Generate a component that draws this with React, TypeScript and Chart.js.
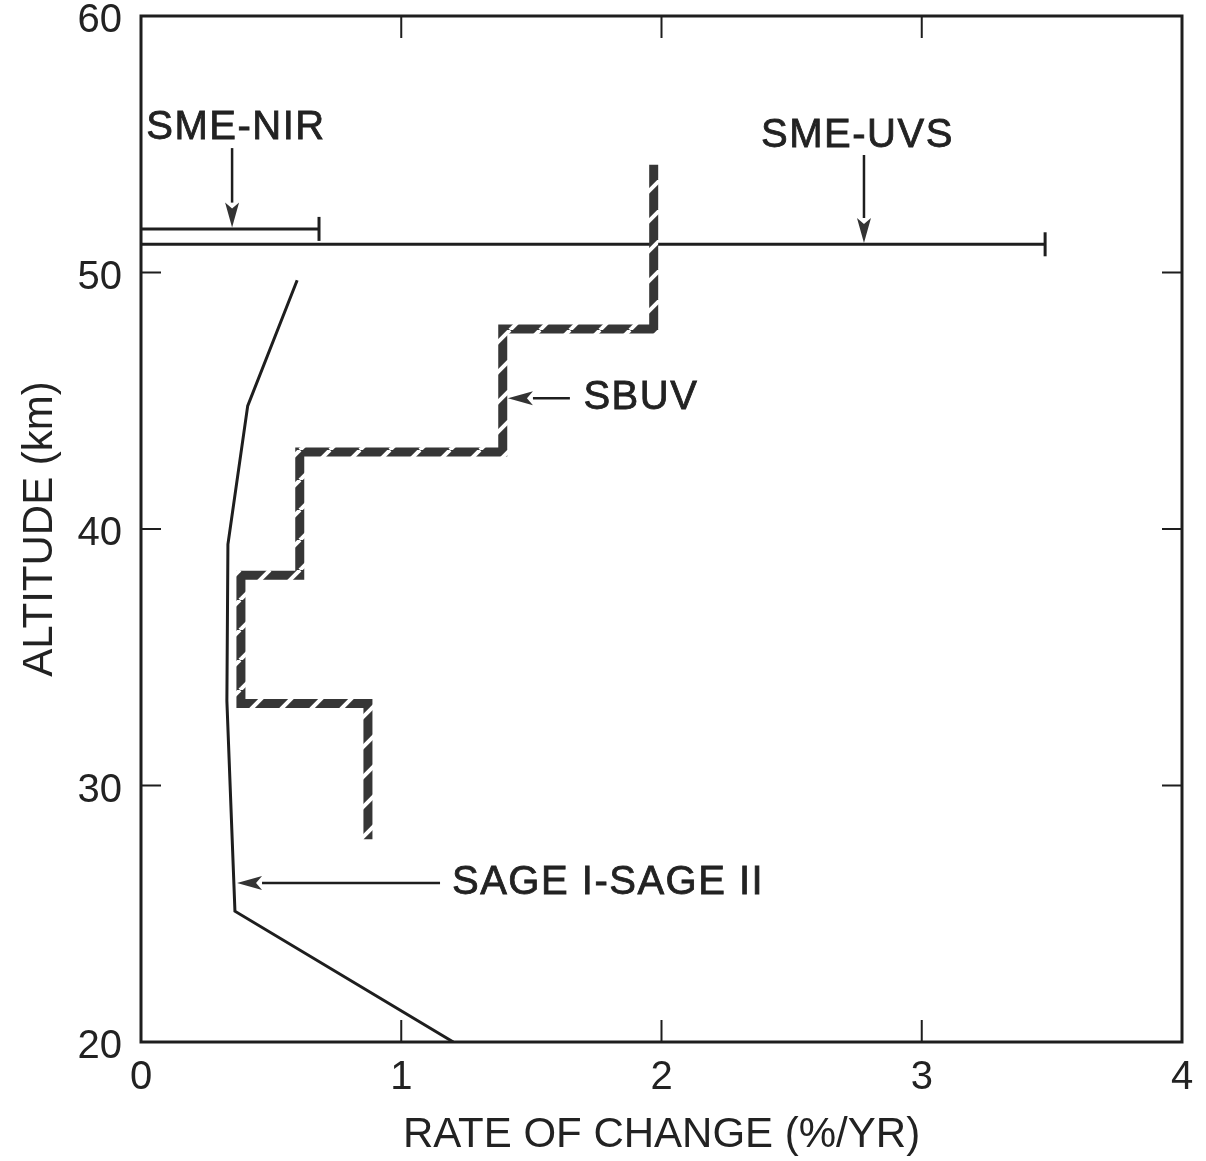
import React, { useEffect, useRef } from 'react';
import { Chart, registerables } from 'chart.js';

Chart.register(...registerables);

// ---- data ----
const xTickValues = [0, 1, 2, 3, 4];
const yTickValues = [20, 30, 40, 50, 60];
const innerTickX = [1, 2, 3];
const innerTickY = [30, 40, 50];

const sageRate = [0.6, 0.41, 0.334, 0.33, 0.361, 1.2];
const sageAlt = [49.7, 44.8, 39.4, 33.3, 25.1, 20.0];

const sbuvRate = [1.97, 1.97, 1.39, 1.39, 0.61, 0.61, 0.384, 0.384, 0.872, 0.872];
const sbuvAlt = [54.2, 47.8, 47.8, 43.0, 43.0, 38.2, 38.2, 33.2, 33.2, 27.9];

const nirRate = [0, 0.684];
const nirAlt = [51.7, 51.7];

const uvsRate = [0, 3.474];
const uvsAlt = [51.1, 51.1];

const labelTexts = ['SME-NIR', 'SME-UVS', 'SBUV', 'SAGE I-SAGE II'];
const labelX = [0.365, 2.753, 1.70, 1.195];
const labelY = [55.65, 55.32, 45.1, 26.2];
const labelAlign = ['center', 'center', 'left', 'left'];

// arrows: tail (x,y) -> tip (x,y)
const arrowTailX = [0.35, 2.778, 1.648, 1.149];
const arrowTailY = [54.85, 54.58, 45.1, 26.2];
const arrowTipX = [0.35, 2.778, 1.41, 0.369];
const arrowTipY = [51.75, 51.15, 45.1, 26.2];

const FONT = "'Liberation Sans', Arial, Helvetica, sans-serif";
const INK = '#1e1e1e';

function toPts(xs: number[], ys: number[]) {
  return xs.map((v, i) => ({ x: v, y: ys[i] }));
}

function makeHatch(): CanvasPattern | string {
  const P = 30;
  const c = document.createElement('canvas');
  c.width = P;
  c.height = P;
  const g = c.getContext('2d');
  if (!g) return '#383838';
  g.fillStyle = '#363636';
  g.fillRect(0, 0, P, P);
  g.strokeStyle = '#ffffff';
  g.lineWidth = 4;
  for (const k of [-1, 0, 1]) {
    g.beginPath();
    g.moveTo(k * P, P);
    g.lineTo(k * P + P, 0);
    g.stroke();
  }
  const pat = g.createPattern(c, 'repeat');
  return pat || '#383838';
}

function drawArrow(ctx: CanvasRenderingContext2D, x1: number, y1: number, x2: number, y2: number) {
  const ang = Math.atan2(y2 - y1, x2 - x1);
  const headLen = 25;
  const headW = 7;
  const bx = x2 - headLen * Math.cos(ang);
  const by = y2 - headLen * Math.sin(ang);
  ctx.beginPath();
  ctx.moveTo(x1, y1);
  ctx.lineTo(bx, by);
  ctx.lineWidth = 2.5;
  ctx.strokeStyle = INK;
  ctx.stroke();
  ctx.beginPath();
  ctx.moveTo(x2, y2);
  ctx.lineTo(bx + headW * Math.sin(ang), by - headW * Math.cos(ang));
  ctx.lineTo(x2 - (headLen - 6) * Math.cos(ang), y2 - (headLen - 6) * Math.sin(ang));
  ctx.lineTo(bx - headW * Math.sin(ang), by + headW * Math.cos(ang));
  ctx.closePath();
  ctx.fillStyle = '#333';
  ctx.fill();
}

const framePlugin = {
  id: 'frame',
  beforeDatasetsDraw(chart: any) {
    const { ctx, chartArea, scales } = chart;
    const { left, right, top, bottom } = chartArea;
    ctx.save();
    ctx.strokeStyle = INK;
    ctx.lineWidth = 3;
    ctx.strokeRect(left, top, right - left, bottom - top);
    ctx.lineWidth = 2;
    const tl = 22;
    for (const v of innerTickX) {
      const px = scales.x.getPixelForValue(v);
      ctx.beginPath();
      ctx.moveTo(px, bottom);
      ctx.lineTo(px, bottom - tl);
      ctx.moveTo(px, top);
      ctx.lineTo(px, top + tl);
      ctx.stroke();
    }
    for (const v of innerTickY) {
      const py = scales.y.getPixelForValue(v);
      ctx.beginPath();
      ctx.moveTo(left, py);
      ctx.lineTo(left + 20, py);
      ctx.moveTo(right, py);
      ctx.lineTo(right - 20, py);
      ctx.stroke();
    }
    ctx.restore();
  },
  afterDatasetsDraw(chart: any) {
    const { ctx, scales } = chart;
    const sx = scales.x;
    const sy = scales.y;
    ctx.save();
    for (let i = 0; i < arrowTailX.length; i++) {
      drawArrow(
        ctx,
        sx.getPixelForValue(arrowTailX[i]),
        sy.getPixelForValue(arrowTailY[i]),
        sx.getPixelForValue(arrowTipX[i]),
        sy.getPixelForValue(arrowTipY[i])
      );
    }
    ctx.fillStyle = '#222';
    ctx.strokeStyle = '#222';
    ctx.lineWidth = 0.8;
    ctx.font = `40px ${FONT}`;
    (ctx as any).letterSpacing = '1.5px';
    ctx.textBaseline = 'middle';
    for (let i = 0; i < labelTexts.length; i++) {
      ctx.textAlign = labelAlign[i] as CanvasTextAlign;
      const px = sx.getPixelForValue(labelX[i]);
      const py = sy.getPixelForValue(labelY[i]);
      ctx.fillText(labelTexts[i], px, py);
      ctx.strokeText(labelTexts[i], px, py);
    }
    (ctx as any).letterSpacing = '0px';
    ctx.restore();
  },
};

export default function App() {
  const ref = useRef<HTMLCanvasElement | null>(null);

  useEffect(() => {
    document.body.style.margin = '0';
    const canvas = ref.current;
    if (!canvas) return;
    const hatch = makeHatch();
    const chart = new Chart(canvas, {
      type: 'scatter',
      data: {
        datasets: [
          {
            label: 'SBUV',
            data: toPts(sbuvRate, sbuvAlt),
            showLine: true,
            borderColor: hatch as any,
            borderWidth: 9,
            borderJoinStyle: 'miter',
            borderCapStyle: 'butt',
            pointRadius: 0,
            tension: 0,
          },
          {
            label: 'SAGE I-SAGE II',
            data: toPts(sageRate, sageAlt),
            showLine: true,
            borderColor: INK,
            borderWidth: 3,
            pointRadius: 0,
            tension: 0,
          },
          {
            label: 'SME-NIR',
            data: toPts(nirRate, nirAlt),
            showLine: true,
            borderColor: INK,
            borderWidth: 3,
            pointStyle: 'line',
            rotation: 90,
            pointRadius: [0, 12],
            pointBorderWidth: 3,
            pointBorderColor: INK,
            tension: 0,
          },
          {
            label: 'SME-UVS',
            data: toPts(uvsRate, uvsAlt),
            showLine: true,
            borderColor: INK,
            borderWidth: 3,
            pointStyle: 'line',
            rotation: 90,
            pointRadius: [0, 12],
            pointBorderWidth: 3,
            pointBorderColor: INK,
            tension: 0,
          },
        ],
      },
      options: {
        responsive: false,
        animation: false,
        layout: { padding: { left: 0, top: 16, right: 24, bottom: 0 } },
        plugins: { legend: { display: false }, tooltip: { enabled: false } },
        scales: {
          x: {
            type: 'linear',
            min: 0,
            max: 4,
            afterBuildTicks: (s: any) => {
              s.ticks = xTickValues.map((v) => ({ value: v }));
            },
            afterFit: (s: any) => {
              s.height = 119;
              s.paddingLeft = 0;
              s.paddingRight = 0;
            },
            grid: { display: false, drawTicks: false },
            border: { display: false },
            ticks: {
              autoSkip: false,
              maxRotation: 0,
              padding: 12,
              color: '#222',
              font: { family: FONT, size: 40 },
            },
            title: {
              display: true,
              text: 'RATE OF CHANGE (%/YR)',
              color: '#222',
              font: { family: FONT, size: 42 },
              padding: 0,
            },
          },
          y: {
            type: 'linear',
            min: 20,
            max: 60,
            afterBuildTicks: (s: any) => {
              s.ticks = yTickValues.map((v) => ({ value: v }));
            },
            afterFit: (s: any) => {
              s.width = 141;
              s.paddingTop = 0;
              s.paddingBottom = 0;
            },
            grid: { display: false, drawTicks: false },
            border: { display: false },
            ticks: {
              autoSkip: false,
              padding: 19,
              labelOffset: 5,
              color: '#222',
              font: { family: FONT, size: 40 },
            },
            title: {
              display: true,
              text: 'ALTITUDE (km)',
              color: '#222',
              font: { family: FONT, size: 42 },
              padding: { top: 15, bottom: 0 },
            },
          },
        },
      },
      plugins: [framePlugin],
    });
    return () => chart.destroy();
  }, []);

  return (
    <div style={{ position: 'absolute', left: 0, top: 0, width: 1206, height: 1161, background: '#fff' }}>
      <canvas ref={ref} width={1206} height={1161} style={{ display: 'block' }} />
    </div>
  );
}
